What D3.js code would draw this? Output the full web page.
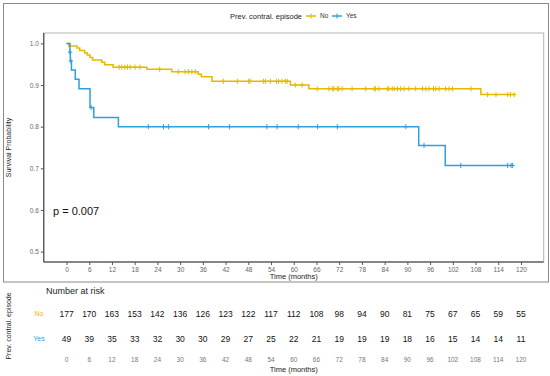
<!DOCTYPE html>
<html><head><meta charset="utf-8">
<script src="https://cdn.jsdelivr.net/npm/d3@7"></script>
<style>body{margin:0;background:#fff}svg{display:block;font-family:"Liberation Sans",Arial,sans-serif}</style>
</head><body>
<svg id="c" width="550" height="376"></svg>
<script>
// ---- data ----
const groups = ["No", "Yes"];
const colors = ["#E7B800", "#2E9FDF"];
const noTimes = [0, 0.6, 2.8, 3.5, 4.8, 5.5, 6.2, 6.9, 9.3, 10.1, 12.3, 21.2, 27.8, 34.8, 35.6, 38.4, 59.1, 64.0, 109.4];
const noSurv  = [1.0, 0.994, 0.989, 0.983, 0.977, 0.972, 0.966, 0.960, 0.955, 0.949, 0.943, 0.938, 0.932, 0.926, 0.920, 0.909, 0.900, 0.891, 0.877];
const noEnd = 118.2;
const noCensor = [13.9, 14.6, 15.4, 16.1, 16.8, 18.1, 19.4, 24.6, 29.5, 31.3, 32.2, 33.1, 34.0, 41.4, 45.1, 48.1, 48.5, 52.0, 52.5, 53.8, 55.4, 56.0, 56.9, 57.8, 58.3, 60.4, 62.2, 66.2, 69.3, 70.2, 70.6, 71.5, 71.9, 72.8, 75.4, 79.0, 81.2, 81.6, 82.5, 84.7, 85.1, 86.0, 86.5, 87.4, 88.2, 89.1, 90.4, 92.2, 94.0, 94.9, 95.7, 96.9, 97.5, 98.4, 100.1, 101.0, 101.9, 106.8, 111.2, 113.4, 116.5, 117.2, 118.2];
const yesTimes = [0, 0.9, 1.0, 1.3, 2.3, 3.3, 6.2, 7.2, 13.7, 93.0, 100.0];
const yesSurv  = [1.0, 0.979, 0.958, 0.936, 0.914, 0.891, 0.846, 0.822, 0.800, 0.755, 0.707];
const yesEnd = 117.8;
const yesCensor = [0.95, 1.15, 6.5, 21.6, 25.6, 26.9, 37.5, 43.0, 52.9, 55.6, 61.2, 66.3, 71.5, 89.6, 94.4, 104.1, 116.5, 117.4, 117.8];
const xTicks = [0, 6, 12, 18, 24, 30, 36, 42, 48, 54, 60, 66, 72, 78, 84, 90, 96, 102, 108, 114, 120];
const yTicks = [0.5, 0.6, 0.7, 0.8, 0.9, 1.0];
const riskNo  = [177, 170, 163, 153, 142, 136, 126, 123, 122, 117, 112, 108, 98, 94, 90, 81, 75, 67, 65, 59, 55];
const riskYes = [49, 39, 35, 33, 32, 30, 30, 29, 27, 25, 22, 21, 19, 19, 19, 18, 16, 15, 14, 14, 11];
const pText = "p = 0.007";
const legendTitle = "Prev. contral. episode";
const yLabel = "Survival Probability";
const xLabel = "Time (months)";

// ---- drawing ----
const svg = d3.select("#c");
const L = 43.8, R = 543.7, T = 33, B = 262;
const x = d3.scaleLinear().domain([-6, 126]).range([L, R]);
const y = d3.scaleLinear().domain([0.475, 1.025]).range([B, T]);

// outer frame
svg.append("rect").attr("x", 3.5).attr("y", 3.5).attr("width", 545).attr("height", 278.5)
  .attr("fill", "none").attr("stroke", "#8a8a8a").attr("stroke-width", 1);
// panel border
svg.append("rect").attr("x", L).attr("y", T).attr("width", R - L).attr("height", B - T)
  .attr("fill", "none").attr("stroke", "#b5b5b5").attr("stroke-width", 1);

// axes
const yAxis = d3.axisLeft(y).tickValues(yTicks).tickFormat(d3.format(".1f")).tickSize(3).tickPadding(2);
const gy = svg.append("g").attr("transform", `translate(${L},0)`).call(yAxis);
const xAxis = d3.axisBottom(x).tickValues(xTicks).tickSize(3).tickPadding(2);
const gx = svg.append("g").attr("transform", `translate(0,${B})`).call(xAxis);
[gx, gy].forEach(g => {
  g.select(".domain").attr("stroke", "#333").attr("stroke-width", 1);
  g.selectAll(".tick line").attr("stroke", "#555");
  g.selectAll(".tick text").attr("fill", "#666").attr("font-size", 6.5).attr("font-family", "Liberation Sans, Arial, sans-serif");
});
gy.select(".domain").attr("d", `M0,${B}V${T}`);
gx.select(".domain").attr("d", `M${L},0H${R}`);

svg.append("text").attr("x", (L + R) / 2).attr("y", 279).attr("text-anchor", "middle")
  .attr("font-size", 7.5).attr("fill", "#222").text(xLabel);
svg.append("text").attr("transform", `translate(10.5,${(T + B) / 2}) rotate(-90)`).attr("text-anchor", "middle")
  .attr("font-size", 7).attr("fill", "#222").text(yLabel);

// curves
const series = [
  {times: noTimes, surv: noSurv, end: noEnd, censor: noCensor},
  {times: yesTimes, surv: yesSurv, end: yesEnd, censor: yesCensor}
];
const line = d3.line().x(d => x(d[0])).y(d => y(d[1])).curve(d3.curveStepAfter);
series.forEach((s, i) => {
  const pts = s.times.map((t, k) => [t, s.surv[k]]);
  pts.push([s.end, s.surv[s.surv.length - 1]]);
  svg.append("path").datum(pts).attr("d", line).attr("fill", "none")
    .attr("stroke", colors[i]).attr("stroke-width", 1.5);
  const survAt = t => s.surv[d3.bisectRight(s.times, t) - 1];
  s.censor.forEach(t => {
    const cx = x(t), cy = y(survAt(t));
    svg.append("path").attr("d", `M${cx},${cy - 2.6}V${cy + 2.6}M${cx - 2.2},${cy}H${cx + 2.2}`)
      .attr("stroke", colors[i]).attr("stroke-width", 1);
  });
});

svg.append("text").attr("x", 53).attr("y", 215).attr("font-size", 11).attr("fill", "#111").text(pText);

// legend
svg.append("text").attr("x", 302).attr("y", 18.5).attr("text-anchor", "end").attr("font-size", 7.5)
  .attr("fill", "#222").text(legendTitle);
const lgX = [306, 332];
groups.forEach((g, i) => {
  const lx = lgX[i], ly = 16;
  svg.append("path").attr("d", `M${lx},${ly}H${lx + 10}`).attr("stroke", colors[i]).attr("stroke-width", 1.5);
  svg.append("path").attr("d", `M${lx + 5},${ly - 2.6}V${ly + 2.6}`).attr("stroke", colors[i]).attr("stroke-width", 1);
  svg.append("text").attr("x", lx + 14).attr("y", ly + 2.3).attr("font-size", 6.5).attr("fill", "#333").text(g);
});

// risk table
const xr = x;
svg.append("text").attr("x", 46).attr("y", 293.5).attr("font-size", 9).attr("fill", "#222").text("Number at risk");
const rows = [riskNo, riskYes];
const rowY = [313.7, 339];
rows.forEach((r, i) => {
  svg.append("text").attr("x", 39).attr("y", rowY[i]).attr("dy", "0.35em").attr("text-anchor", "middle")
    .attr("font-size", 7).attr("fill", colors[i]).text(groups[i]);
  svg.selectAll(null).data(r).enter().append("text")
    .attr("x", (d, k) => xr(xTicks[k])).attr("y", rowY[i]).attr("dy", "0.35em")
    .attr("text-anchor", "middle").attr("font-size", 8.5).attr("fill", "#111").text(d => d);
});
svg.selectAll(null).data(xTicks).enter().append("text")
  .attr("x", d => xr(d)).attr("y", 360).attr("dy", "0.35em").attr("text-anchor", "middle")
  .attr("font-size", 6.5).attr("fill", "#777").text(d => d);
svg.append("text").attr("x", (L + R) / 2).attr("y", 369).attr("dy", "0.35em").attr("text-anchor", "middle")
  .attr("font-size", 7.5).attr("fill", "#222").text(xLabel);
svg.append("text").attr("transform", `translate(10.5,326) rotate(-90)`).attr("text-anchor", "middle")
  .attr("font-size", 7).attr("fill", "#222").text(legendTitle);
</script>
</body></html>
